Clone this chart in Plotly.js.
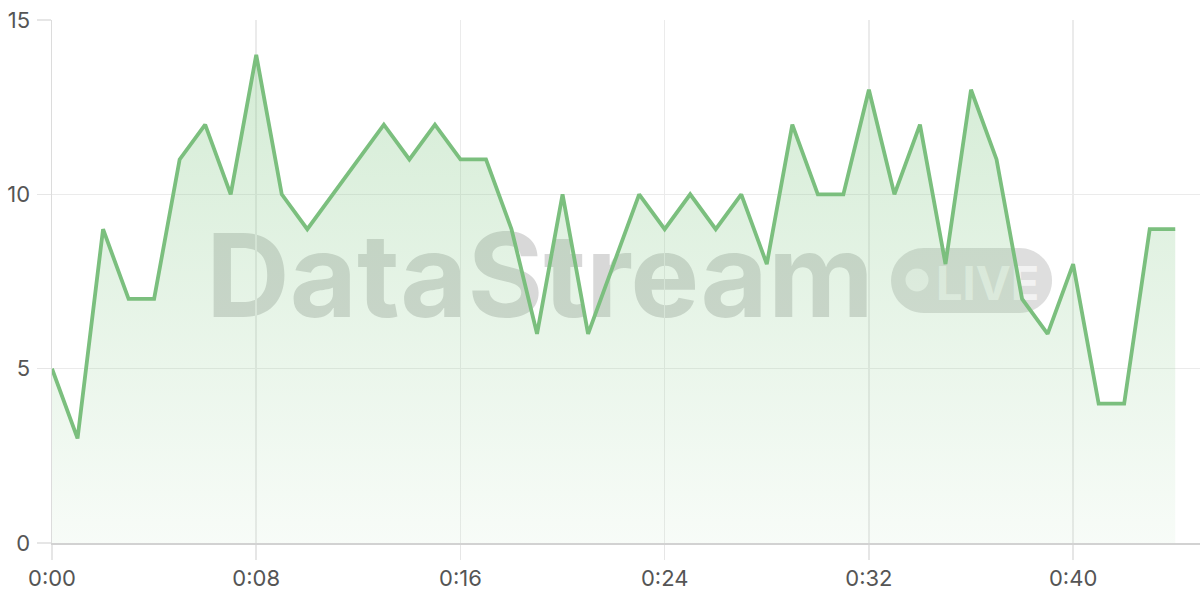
<!DOCTYPE html>
<html>
<head>
<meta charset="utf-8">
<script src="https://cdn.plot.ly/plotly-3.0.1.min.js"></script>
<style>
  html, body { margin: 0; padding: 0; background: #ffffff; }
  #chart { width: 1200px; height: 600px; }
</style>
</head>
<body>
<div id="chart"></div>
<script>
// minutes elapsed
const minutes = [0,1,2,3,4,5,6,7,8,9,10,11,12,13,14,15,16,17,18,19,20,21,22,23,24,25,26,27,28,29,30,31,32,33,34,35,36,37,38,39,40,41,42,43,44];
const values  = [5,3,9,7,7,11,12,10,14,10,9,10,11,12,11,12,11,11,9,6,10,6,8,10,9,10,9,10,8,12,10,10,13,10,12,8,13,11,7,6,8,4,4,9,9];
const xTickVals = [0,8,16,24,32,40];
const xTickText = ["0:00","0:08","0:16","0:24","0:32","0:40"];
const yTickVals = [0,5,10,15];
const yTickText = ["0","5","10","15"];
const watermarkText = "DataStream";
const badgeText = "LIVE";

const lineColor = "#7bbf7e";
const fontFamily = "Inter, 'Noto Sans', sans-serif";

const trace = {
  type: "scatter",
  mode: "lines",
  x: minutes,
  y: values,
  line: { color: lineColor, width: 3.8, shape: "linear" },
  fill: "tozeroy",
  fillgradient: {
    type: "vertical",
    start: 0,
    stop: 14,
    colorscale: [[0, "rgba(129,199,132,0.06)"], [1, "rgba(129,199,132,0.34)"]]
  },
  hoverinfo: "x+y",
  showlegend: false
};

const k = 17.95;
const pill = "M -48,32.5 L 48,32.5 C 65.95,32.5 80.5," + k + " 80.5,0 C 80.5,-" + k + " 65.95,-32.5 48,-32.5 L -48,-32.5 C -65.95,-32.5 -80.5,-" + k + " -80.5,0 C -80.5," + k + " -65.95,32.5 -48,32.5 Z";

const layout = {
  width: 1200,
  height: 600,
  margin: { l: 52, r: 0, t: 20, b: 57 },
  paper_bgcolor: "#ffffff",
  plot_bgcolor: "#ffffff",
  font: { family: fontFamily, size: 22, color: "#555555" },
  showlegend: false,
  xaxis: {
    range: [0, 44.97],
    tickvals: xTickVals,
    ticktext: xTickText,
    showgrid: true,
    gridcolor: "#ebebeb",
    gridwidth: 1.5,
    zeroline: false,
    showline: true,
    linecolor: "#d2d2d2",
    linewidth: 2,
    ticks: "outside",
    ticklen: 15,
    tickwidth: 1.5,
    tickcolor: "#e6e6e6",
    tickfont: { family: fontFamily, size: 22, color: "#555555" },
    fixedrange: true
  },
  yaxis: {
    range: [0, 15],
    tickvals: yTickVals,
    ticktext: yTickText,
    showgrid: true,
    gridcolor: "#ebebeb",
    gridwidth: 1.5,
    zeroline: false,
    showline: true,
    linecolor: "#dcdcdc",
    linewidth: 1.5,
    ticks: "outside",
    ticklen: 14,
    tickwidth: 1.5,
    tickcolor: "#e6e6e6",
    ticklabelstandoff: 2,
    tickfont: { family: fontFamily, size: 22, color: "#555555" },
    fixedrange: true
  },
  shapes: [
    {
      type: "rect", layer: "between",
      xref: "paper", yref: "paper",
      x0: 0.10, x1: 0.75, y0: 0.40, y1: 0.64,
      line: { width: 0 }, fillcolor: "rgba(0,0,0,0)",
      label: {
        text: "<b>" + watermarkText + "</b>",
        textposition: "middle center",
        font: { family: "Inter, 'Liberation Sans', sans-serif", size: 116, color: "rgba(60,60,60,0.2)", weight: 700 }
      }
    },
    {
      type: "path", layer: "between",
      xref: "paper", yref: "paper",
      xsizemode: "pixel", ysizemode: "pixel",
      xanchor: 0.801, yanchor: 0.502,
      path: pill,
      line: { width: 0 },
      fillcolor: "rgba(60,60,60,0.17)"
    },
    {
      type: "circle", layer: "between",
      xref: "paper", yref: "paper",
      xsizemode: "pixel", ysizemode: "pixel",
      xanchor: 0.7535, yanchor: 0.5029,
      x0: -11.5, x1: 11.5, y0: -11.5, y1: 11.5,
      line: { width: 0 },
      fillcolor: "rgba(255,255,255,0.65)"
    },
    {
      type: "rect", layer: "between",
      xref: "paper", yref: "paper",
      x0: 0.77, x1: 0.86, y0: 0.44, y1: 0.56,
      line: { width: 0 }, fillcolor: "rgba(0,0,0,0)",
      label: {
        text: "<b>" + badgeText + "</b>",
        textposition: "middle center",
        font: { family: "Inter, 'Liberation Sans', sans-serif", size: 47, color: "rgba(255,255,255,0.65)", weight: 700 }
      }
    }
  ]
};

Plotly.newPlot("chart", [trace], layout, { displayModeBar: false, staticPlot: true });
</script>
</body>
</html>
